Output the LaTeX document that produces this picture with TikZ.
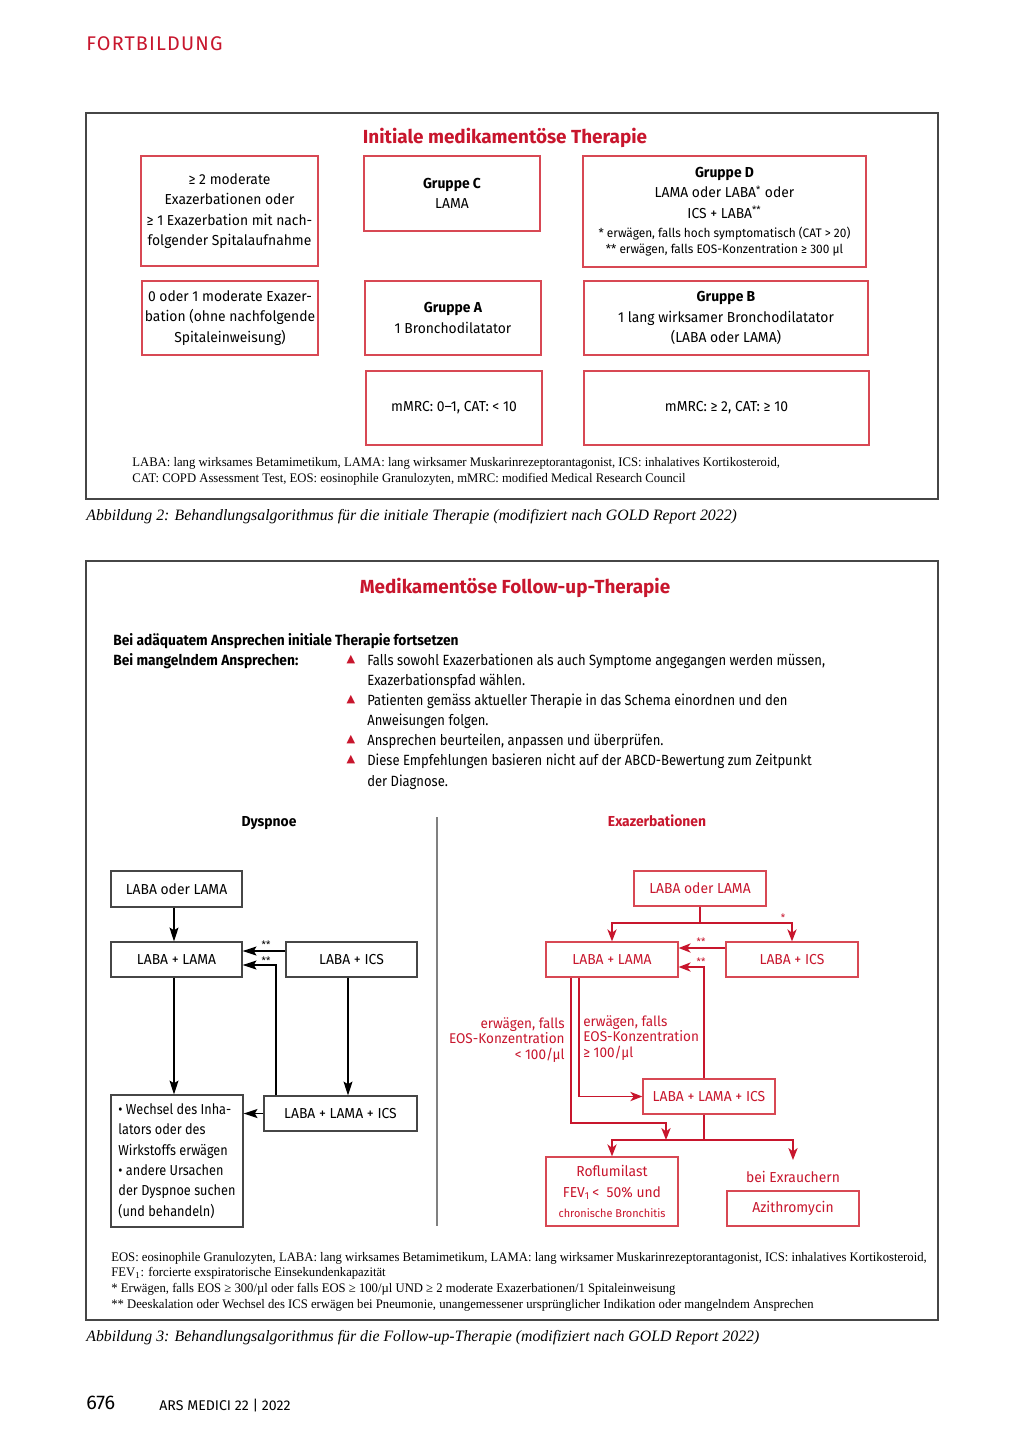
\documentclass[tikz,border=0pt]{standalone}
\usepackage{fontspec}
\setmainfont{Fira Sans}[FakeStretch=0.96]
\newfontfamily\plainf{Fira Sans}
\newfontfamily\condf{Fira Sans}[FakeStretch=0.88]
\newfontfamily\condbf{Fira Sans}[FakeStretch=0.93]
\newfontfamily\serf{Liberation Serif}[FakeStretch=0.97]
\newfontfamily\capf{Liberation Serif}
\newfontfamily\symf{DejaVu Sans}
\usetikzlibrary{arrows.meta}
\definecolor{fred}{RGB}{200,22,45}
\definecolor{bred}{RGB}{216,72,84}
\definecolor{fgray}{RGB}{70,70,70}
\newcommand{\pxu}{0.5813pt}
\tikzset{
  sz/.style 2 args={minimum width=#1*\pxu, minimum height=#2*\pxu},
  rbox/.style={draw=bred, line width=0.7pt, inner sep=0pt, align=center, text=black, font=\fontsize{8.4}{11.9}\selectfont},
  kbox/.style={draw=fgray, line width=0.75pt, inner sep=0pt, align=center, text=black, font=\fontsize{8.4}{11.9}\selectfont},
  ebox/.style={draw=bred, line width=0.75pt, inner sep=0pt, align=center, text=fred, font=\fontsize{8.4}{11.9}\selectfont},
  lbl/.style={inner sep=0pt, anchor=west, text height=0.7em, text depth=0.2em},
  clbl/.style={inner sep=0pt, text height=0.7em, text depth=0.2em},
  frame/.style={draw=fgray, line width=0.7pt},
  darr/.style={line width=0.9pt, draw=black, -{Stealth[length=8pt,width=5.2pt,inset=1.5pt]}},
  earr/.style={line width=0.85pt, draw=fred, -{Stealth[length=7pt,width=5.4pt,inset=2pt]}},
  eline/.style={line width=0.85pt, draw=fred},
  stars/.style={inner sep=0pt, font=\fontsize{6}{6}\selectfont},
  foot/.style={lbl, font=\serf\fontsize{7.6}{9}\selectfont},
  capt/.style={lbl, font=\capf\itshape\fontsize{9.2}{11}\selectfont},
  cond/.style={lbl, font=\condf\fontsize{8.6}{11}\selectfont},
  condb/.style={lbl, font=\condbf\bfseries\fontsize{8.6}{11}\selectfont},
  tri/.style={inner sep=0pt, text=fred, font=\symf\fontsize{6.5}{7}\selectfont},
  ftitle/.style={clbl, text=fred, font=\plainf\bfseries\fontsize{11}{12}\selectfont},
}
\begin{document}
\begin{tikzpicture}[x=0.5813pt, y=-0.5813pt]
\fill[white] (0,0) rectangle (1024,1448);
\useasboundingbox (0,0) rectangle (1024,1448);

% header
\node[lbl, text=fred, font=\plainf\fontsize{11.5}{12}\selectfont\addfontfeature{LetterSpace=6}] (hdr) at (86,46) {FORTBILDUNG};

% ===== Figure 2 =====
\draw[frame] (86,113) rectangle (938,499);
\node[ftitle] (t2) at (505,139.5) {Initiale medikamentöse Therapie};

\node[rbox, sz={177}{110}] (L1) at (229.5,211) {≥ 2 moderate\\Exazerbationen oder\\≥ 1 Exazerbation mit nach-\\folgender Spitalaufnahme};
\node[rbox, sz={176}{75}] (GC) at (452,193.5) {\textbf{Gruppe C}\\LAMA};
\node[rbox, sz={283}{111}] (GD) at (724.5,211.5) {\textbf{Gruppe D}\\LAMA oder LABA\textsuperscript{*} oder\\ICS + LABA\textsuperscript{**}\\[-1pt]
  {\fontsize{7.2}{9.3}\selectfont * erwägen, falls hoch symptomatisch (CAT > 20)}\\[-2.5pt]
  {\fontsize{7.2}{9.3}\selectfont ** erwägen, falls EOS-Konzentration ≥ 300 µl}};
\node[rbox, sz={176}{74}] (L2) at (230,318) {0 oder 1 moderate Exazer-\\bation (ohne nachfolgende\\Spitaleinweisung)};
\node[rbox, sz={176}{74}] (GA) at (453,318) {\textbf{Gruppe A}\\1 Bronchodilatator};
\node[rbox, sz={284}{74}] (GB) at (726,318) {\textbf{Gruppe B}\\1 lang wirksamer Bronchodilatator\\(LABA oder LAMA)};
\node[rbox, sz={176}{74}] (M1) at (454,408) {mMRC: 0–1, CAT: < 10};
\node[rbox, sz={285}{74}] (M2) at (726.5,408) {mMRC: ≥ 2, CAT: ≥ 10};

\node[foot] (f2a) at (132,462) {LABA: lang wirksames Betamimetikum, LAMA: lang wirksamer Muskarinrezeptorantagonist, ICS: inhalatives Kortikosteroid,};
\node[foot] (f2b) at (132,478) {CAT: COPD Assessment Test, EOS: eosinophile Granulozyten, mMRC: modified Medical Research Council};
\node[capt] (c2) at (86,516) {Abbildung 2: Behandlungsalgorithmus für die initiale Therapie (modifiziert nach GOLD Report 2022)};

% ===== Figure 3 =====
\draw[frame] (86,561) rectangle (938,1320);
\node[ftitle] (t3) at (515,589.5) {Medikamentöse Follow-up-Therapie};

\node[condb] (i1) at (113,641) {Bei adäquatem Ansprechen initiale Therapie fortsetzen};
\node[condb] (i2) at (113,661) {Bei mangelndem Ansprechen:};
\node[tri] (b1) at (351,660) {▲};
\node[tri] (b2) at (351,700) {▲};
\node[tri] (b3) at (351,740) {▲};
\node[tri] (b4) at (351,760) {▲};
\node[cond] (l1) at (367,661) {Falls sowohl Exazerbationen als auch Symptome angegangen werden müssen,};
\node[cond] (l2) at (367,681) {Exazerbationspfad wählen.};
\node[cond] (l3) at (367,701) {Patienten gemäss aktueller Therapie in das Schema einordnen und den};
\node[cond] (l4) at (367,721) {Anweisungen folgen.};
\node[cond] (l5) at (367,741) {Ansprechen beurteilen, anpassen und überprüfen.};
\node[cond] (l6) at (367,761) {Diese Empfehlungen basieren nicht auf der ABCD-Bewertung zum Zeitpunkt};
\node[cond] (l7) at (367,782) {der Diagnose.};

\node[clbl, font=\bfseries\fontsize{8.4}{10}\selectfont] (hd) at (269,822) {Dyspnoe};
\node[clbl, text=fred, font=\bfseries\fontsize{8.4}{10}\selectfont] (he) at (657,822) {Exazerbationen};
\draw[draw=gray, line width=0.7pt] (437,817) -- (437,1226);

% Dyspnoe
\node[kbox, sz={131}{36}] (DA) at (176.5,889) {LABA oder LAMA};
\node[kbox, sz={131}{35}] (DB) at (176.5,959.5) {LABA + LAMA};
\node[kbox, sz={131}{35}] (DC) at (351.5,959.5) {LABA + ICS};
\node[kbox, sz={153}{35}] (DD) at (340.5,1113.5) {LABA + LAMA + ICS};
\node[kbox, sz={132}{132}, align=left, font=\condf\fontsize{8.4}{11.8}\selectfont] (DE) at (177,1161) {• Wechsel des Inha-\\lators oder des\\Wirkstoffs erwägen\\• andere Ursachen\\der Dyspnoe suchen\\(und behandeln)};

\coordinate (d951) at (0,951);
\coordinate (d965) at (0,965);
\coordinate (dx276) at (276,0);
\coordinate (dx348) at (348,0);
\coordinate (dx174) at (174,0);
\draw[darr] (dx174|-DA.south) -- (dx174|-DB.north);
\draw[darr] (dx174|-DB.south) -- (dx174|-DE.north);
\draw[darr] (DC.west|-d951) -- (DB.east|-d951);
\draw[darr] (dx276|-DD.north) |- (DB.east|-d965);
\node[stars] (ds1) at (266,945) {**};
\node[stars] (ds2) at (266,961) {**};
\draw[darr] (dx348|-DC.south) -- (dx348|-DD.north);
\draw[darr] (DD.west) -- (DE.east|-DD.west);

% Exazerbationen
\node[ebox, sz={132}{35}] (EA) at (700,888.5) {LABA oder LAMA};
\node[ebox, sz={132}{35}] (EB) at (612,959.5) {LABA + LAMA};
\node[ebox, sz={132}{35}] (EC) at (792,959.5) {LABA + ICS};
\node[ebox, sz={132}{35}] (ED) at (709,1096.5) {LABA + LAMA + ICS};
\node[ebox, sz={132}{69}] (EF) at (612,1191.5) {Roflumilast\\FEV\textsubscript{1}\,<\ \ 50\% und\\{\fontsize{6.6}{9}\selectfont chronische Bronchitis}};
\node[ebox, sz={132}{35}] (EG) at (793,1208.5) {Azithromycin};
\node[clbl, text=fred, font=\fontsize{8.4}{10}\selectfont] (ex) at (793,1178) {bei Exrauchern};

\node[inner sep=0pt, anchor=east, align=right, text=fred, font=\fontsize{8.2}{9.1}\selectfont] (lab1) at (565,1040) {erwägen, falls\\EOS-Konzentration\\< 100/µl};
\node[inner sep=0pt, anchor=west, align=left, text=fred, font=\fontsize{8.2}{9.1}\selectfont] (lab2) at (583,1038) {erwägen, falls\\EOS-Konzentration\\≥ 100/µl};

\coordinate (e923) at (0,923);
\coordinate (e948) at (0,948);
\coordinate (e967) at (0,967);
\coordinate (e1123) at (0,1123);
\coordinate (e1140) at (0,1140);
\coordinate (ex571) at (571,0);
\coordinate (ex579) at (579,0);
\coordinate (ex666) at (666,0);
\coordinate (ex704) at (704,0);
\coordinate (exr) at (793,1160);

\draw[eline] (EA.south) -- (EA.south|-e923);
\draw[earr] (EA.south|-e923) -| (EB.north);
\draw[earr] (EA.south|-e923) -| (EC.north);
\node[stars, text=fred] (s1) at (783,918) {*};
\draw[earr] (EC.west|-e948) -- (EB.east|-e948);
\draw[earr] (ex704|-ED.north) |- (EB.east|-e967);
\node[stars, text=fred] (es1) at (701,942) {**};
\node[stars, text=fred] (es2) at (701,962) {**};
\draw[earr] (ex579|-EB.south) |- (ED.west);
\draw[earr] (ex571|-EB.south) |- (ex666|-e1123) -- (ex666|-e1140);
\draw[eline] (ex704|-ED.south) -- (ex704|-e1140);
\draw[earr] (ex704|-e1140) -| (EF.north);
\draw[earr] (ex704|-e1140) -| (exr);

\node[foot] (f3a) at (111,1257) {EOS: eosinophile Granulozyten, LABA: lang wirksames Betamimetikum, LAMA: lang wirksamer Muskarinrezeptorantagonist, ICS: inhalatives Kortikosteroid,};
\node[foot] (f3b) at (111,1272) {FEV\textsubscript{1}: forcierte exspiratorische Einsekundenkapazität};
\node[foot] (f3c) at (111,1288) {* Erwägen, falls EOS ≥ 300/µl oder falls EOS ≥ 100/µl UND ≥ 2 moderate Exazerbationen/1 Spitaleinweisung};
\node[foot] (f3d) at (111,1304) {** Deeskalation oder Wechsel des ICS erwägen bei Pneumonie, unangemessener ursprünglicher Indikation oder mangelndem Ansprechen};
\node[capt] (c3) at (86,1337) {Abbildung 3: Behandlungsalgorithmus für die Follow-up-Therapie (modifiziert nach GOLD Report 2022)};

% footer
\node[lbl, font=\plainf\fontsize{11.5}{12}\selectfont] (pg) at (86,1405) {676};
\node[lbl, font=\plainf\fontsize{8.2}{9}\selectfont] (jr) at (159,1406) {ARS MEDICI 22 | 2022};
\end{tikzpicture}
\end{document}
